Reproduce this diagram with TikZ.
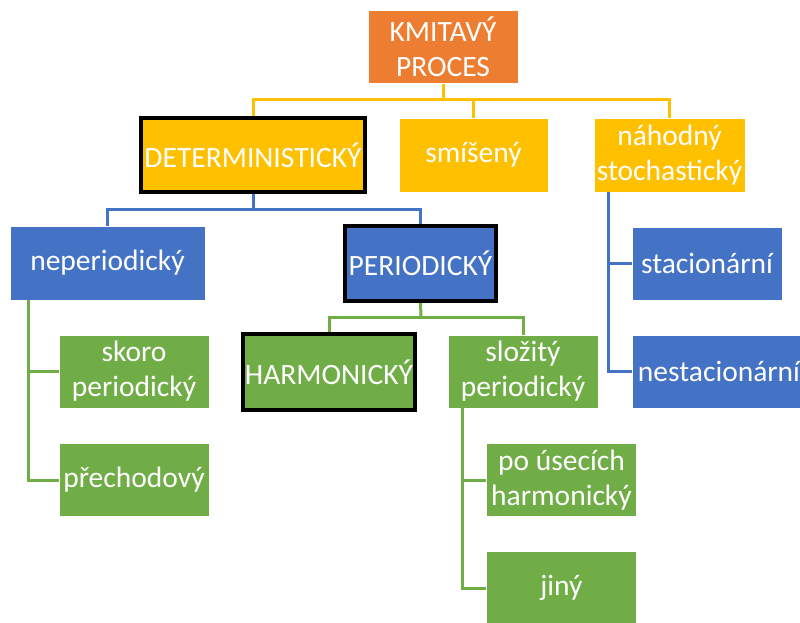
\documentclass[tikz,border=0pt]{standalone}
\usepackage{fontspec}
\setmainfont{Carlito}
\definecolor{procorange}{HTML}{ED7D31}
\definecolor{procyellow}{HTML}{FFC000}
\definecolor{procblue}{HTML}{4472C4}
\definecolor{procgreen}{HTML}{70AD47}
\tikzset{
  box/.style={rectangle, inner sep=0pt, text=white, align=center,
    font=\fontsize{29.5}{35}\selectfont,
    minimum width=150pt, minimum height=73pt, draw=white, line width=0.8pt},
  keybox/.style={draw=black, line width=4pt},
  ylink/.style={draw=procyellow, line width=3pt},
  blink/.style={draw=procblue, line width=3pt},
  glink/.style={draw=procgreen, line width=3pt},
}
\begin{document}
\begin{tikzpicture}[x=1pt, y=-1pt]
\useasboundingbox (0,0) rectangle (800,623);
\clip (0,0) rectangle (800,623);

% top level
\node[box, fill=procorange] (kp) at (443,47) {KMITAVÝ\\PROCES};

% second level
\node[box, keybox, fill=procyellow, minimum width=224pt, minimum height=74pt] (det) at (253,155) {DETERMINISTICKÝ};
\node[box, fill=procyellow, minimum width=149pt, minimum height=74pt] (smi) at (473.5,155) {smíšený};
\node[box, fill=procyellow, minimum width=151pt, minimum height=74pt] (nah) at (669.5,155) {náhodný\\stochastický};

% third level
\node[box, fill=procblue, minimum width=195pt, minimum height=74pt] (nep) at (107.5,263) {neperiodický};
\node[box, keybox, fill=procblue, minimum width=151pt, minimum height=75pt] (per) at (420.5,263.5) {PERIODICKÝ};
\node[box, fill=procblue] (sta) at (707,263.5) {stacionární};
\node[box, fill=procblue, minimum width=174pt] (nest) at (719,371.5) {nestacionární};

% fourth level
\node[box, fill=procgreen] (sko) at (134,371.5) {skoro\\periodický};
\node[box, fill=procgreen] (pre) at (134,480) {přechodový};
\node[box, keybox, fill=procgreen, minimum width=172pt, minimum height=76pt] (har) at (329,372) {HARMONICKÝ};
\node[box, fill=procgreen] (slo) at (523,371.5) {složitý\\periodický};
\node[box, fill=procgreen] (pou) at (561.5,480) {po úsecích\\harmonický};
\node[box, fill=procgreen] (jin) at (561.5,588) {jiný};

% branching points
\coordinate (ybus) at (443,100);
\coordinate (bbus) at (253,209);
\coordinate (gbus) at (421,317);
\coordinate (nahspine) at (608,192);
\coordinate (nepspine) at (28,300);
\coordinate (slospine) at (462,408);

% yellow tree
\draw[ylink] (kp.south) -- (ybus);
\draw[ylink] (det.north) |- (ybus) -| (nah.north);
\draw[ylink] (smi.north) -- (smi.north |- ybus);

% blue trees
\draw[blink] (det.south) -- (bbus);
\draw[blink] (nep.north) |- (bbus) -| (per.north);
\draw[blink] (nahspine) |- (nest.west);
\draw[blink] (sta.west) -| (nahspine);

% green trees
\draw[glink] (per.south) -- (gbus);
\draw[glink] (har.north) |- (gbus) -| (slo.north);
\draw[glink] (nepspine) |- (pre.west);
\draw[glink] (sko.west) -| (nepspine);
\draw[glink] (slospine) |- (jin.west);
\draw[glink] (pou.west) -| (slospine);
\end{tikzpicture}
\end{document}
